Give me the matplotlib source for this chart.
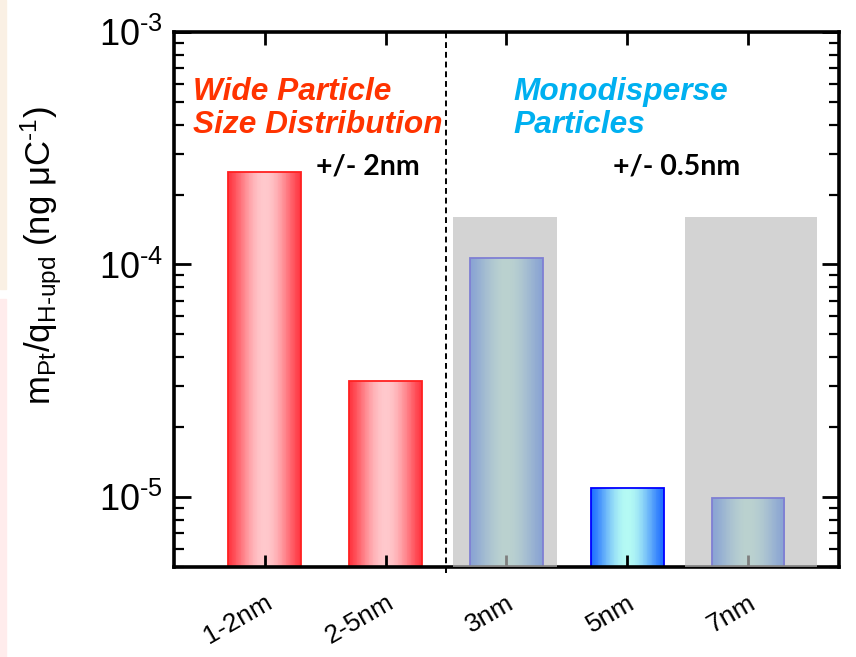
import numpy as np
import matplotlib
matplotlib.use("Agg")
import matplotlib.pyplot as plt
from matplotlib.patches import Rectangle
from matplotlib.colors import to_rgb
from matplotlib.ticker import FuncFormatter

plt.rcParams["font.family"] = ["Liberation Sans", "DejaVu Sans"]
plt.rcParams["mathtext.fontset"] = "custom"
plt.rcParams["mathtext.rm"] = "Liberation Sans"
plt.rcParams["mathtext.it"] = "Liberation Sans:italic"
plt.rcParams["mathtext.default"] = "regular"

# data
sizes = ["1-2nm", "2-5nm", "3nm", "5nm", "7nm"]
mass_per_charge = [2.5e-4, 3.17e-5, 1.07e-4, 1.09e-5, 9.9e-6]
bar_style = ["red", "red", "blue", "blue", "blue"]
shaded = ["3nm", "7nm"]
shade_top = 1.6e-4

grad = {
    "red": ("#ff3540", "#ffc8cc", "#ff2020"),
    "blue": ("#1e6eff", "#b4faf4", "#0000ff"),
}

fig = plt.figure(figsize=(8.56, 6.57), dpi=100)
ax = fig.add_axes([0.2033, 0.137, 0.7767, 0.8143])

# faint strip at the left edge of the original screenshot
fig.patches.append(Rectangle((0, 0.56), 0.007, 0.44, transform=fig.transFigure,
                             color="#faf0e4", zorder=0))
fig.patches.append(Rectangle((0, 0), 0.007, 0.545, transform=fig.transFigure,
                             color="#ffecec", zorder=0))

x = np.arange(1, len(sizes) + 1)
width = 0.6
ybot = 5e-6
n = 90
for xi, val, st in zip(x, mass_per_charge, bar_style):
    edge_c, mid_c, line_c = grad[st]
    e = np.array(to_rgb(edge_c))
    m = np.array(to_rgb(mid_c))
    t = (np.arange(n) + 0.5) / n
    w = np.sin(np.pi * t) ** 1.3
    cols = e[None, :] * (1 - w[:, None]) + m[None, :] * w[:, None]
    lefts = xi - width / 2 + np.arange(n) * width / n
    ax.bar(lefts, val - ybot, width=width / n * 1.6, bottom=ybot, align="edge",
           color=cols, linewidth=0, zorder=1)
    ax.bar(xi, val - ybot, width=width, bottom=ybot, fill=False,
           edgecolor=line_c, linewidth=1.3, zorder=1.5)

# translucent gray highlight over the 3nm and 7nm bars
shade_span = {"3nm": (-0.44, 0.42), "7nm": (-0.52, 0.565)}
for name in shaded:
    i = sizes.index(name) + 1
    lo, hi = shade_span[name]
    ax.add_patch(Rectangle((i + lo, ybot), hi - lo, shade_top - ybot,
                           facecolor="#bebebe", alpha=0.67, linewidth=0,
                           zorder=2.6))

ax.axvline(2.5, ymin=-0.012, ymax=1, color="black", linestyle=(0, (3, 2)),
           linewidth=1.4, clip_on=False, zorder=3)

ax.set_yscale("log")
ax.set_ylim(5e-6, 1e-3)
ax.set_xlim(0.25, 5.75)
ax.yaxis.set_major_formatter(
    FuncFormatter(lambda v, p: r"$10^{\text{-}%d}$" % round(-np.log10(v))))
ax.set_xticks(x)
ax.set_xticklabels(sizes, rotation=30, ha="right", va="top",
                   rotation_mode="anchor", fontsize=19)
ax.tick_params(axis="x", which="both", direction="in", length=9, width=2,
               top=True, pad=17)
ax.tick_params(axis="x", which="minor", length=0)
ax.tick_params(axis="y", which="major", direction="in", length=12, width=2,
               right=True, labelsize=26, pad=8)
ax.tick_params(axis="y", which="minor", direction="in", length=7, width=1.6,
               right=True)
for s in ax.spines.values():
    s.set_linewidth(2.6)

fig.text(41 / 856, 1 - 256 / 657,
         r"$m_{Pt}/q_{H\text{-}upd}$ (ng $\mu$C$^{\text{-}1}$)",
         rotation=90, ha="center", va="center", fontsize=25)

ax.text(0.028, 0.915, "Wide Particle\nSize Distribution", transform=ax.transAxes,
        color="#ff3300", fontsize=22.8, fontweight="bold", fontstyle="italic",
        ha="left", va="top", linespacing=1.12)
ax.text(0.51, 0.915, "Monodisperse\nParticles", transform=ax.transAxes,
        color="#00b0f0", fontsize=22.8, fontweight="bold", fontstyle="italic",
        ha="left", va="top", linespacing=1.12)
ax.text(0.213, 0.748, "+/- 2nm", transform=ax.transAxes, color="black",
        fontsize=20.5, fontweight="bold", family=["Lato", "DejaVu Sans"],
        ha="left", va="center")
ax.text(0.66, 0.748, "+/- 0.5nm", transform=ax.transAxes, color="black",
        fontsize=20.5, fontweight="bold", family=["Lato", "DejaVu Sans"],
        ha="left", va="center")

fig.savefig("out.png", dpi=100)
